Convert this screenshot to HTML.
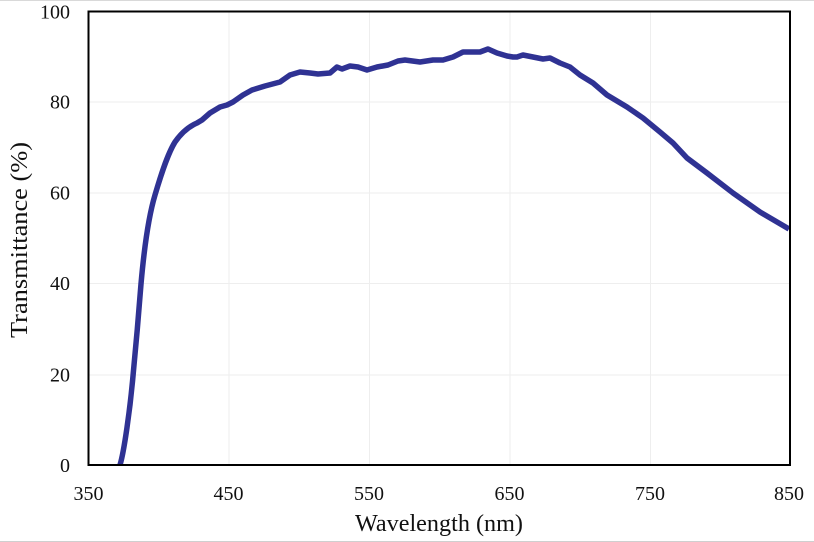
<!DOCTYPE html>
<html>
<head>
<meta charset="utf-8">
<style>
  html,body{margin:0;padding:0;background:#fff;}
  svg{display:block;}
  text{font-family:"Liberation Serif","Times New Roman",serif;fill:#111;}
</style>
</head>
<body>
<svg width="814" height="542" viewBox="0 0 814 542" xmlns="http://www.w3.org/2000/svg">
  <rect x="0" y="0" width="814" height="542" fill="#fff"/>
  <line x1="0" y1="0.5" x2="814" y2="0.5" stroke="#d9d9d9" stroke-width="1"/>
  <line x1="0" y1="541.5" x2="814" y2="541.5" stroke="#cfcfcf" stroke-width="1"/>

  <!-- gridlines -->
  <g stroke="#eeeeee" stroke-width="1">
    <line x1="89" y1="102" x2="790" y2="102"/>
    <line x1="89" y1="193" x2="790" y2="193"/>
    <line x1="89" y1="283.5" x2="790" y2="283.5"/>
    <line x1="89" y1="375" x2="790" y2="375"/>
    <line x1="229" y1="12" x2="229" y2="465"/>
    <line x1="369.5" y1="12" x2="369.5" y2="465"/>
    <line x1="510" y1="12" x2="510" y2="465"/>
    <line x1="650.5" y1="12" x2="650.5" y2="465"/>
  </g>

  <!-- curve -->
  <path fill="none" stroke="#2f3293" stroke-width="5.5" stroke-linejoin="round" stroke-linecap="butt"
    d="M120,465 C124,452 130,410 133,376 C136,345 139,310 141,284 C144,250 149,215 155,195 C160,178 167,155 175,142 C182,132 190,126 197,123 L202,120 L210,113 L220,107 L227,105 L233,102 L243,95 L252,90 L265,86 L280,82 L290,75 L300,72 L310,73 L318,74 L330,73 L337,67 L342,69 L350,66 L358,67 L367,70 L377,67 L388,65 L398,61 L405,60 L420,62 L433,60 L443,60 L453,57 L463,52 L473,52 L480,52 L488,49 L497,53 L507,56 L513,57 L517,57 L523,55 L533,57 L543,59 L550,58 L560,63 L570,67 L580,75 L593,83 L607,95 L627,107 L643,118 L660,132 L673,143 L687,158 L707,173 L733,193 L760,212 L789,229"/>

  <!-- plot frame -->
  <rect x="88.5" y="11.5" width="701.5" height="453.5" fill="none" stroke="#000" stroke-width="2"/>

  <!-- y tick labels -->
  <g font-size="20" text-anchor="end">
    <text x="70" y="18.5">100</text>
    <text x="70" y="108.5">80</text>
    <text x="70" y="199.5">60</text>
    <text x="70" y="290">40</text>
    <text x="70" y="381.5">20</text>
    <text x="70" y="472">0</text>
  </g>

  <!-- x tick labels -->
  <g font-size="20" text-anchor="middle">
    <text x="88.5" y="500">350</text>
    <text x="228.5" y="500">450</text>
    <text x="369" y="500">550</text>
    <text x="509.5" y="500">650</text>
    <text x="650" y="500">750</text>
    <text x="789" y="500">850</text>
  </g>

  <!-- axis titles -->
  <text x="439" y="531" font-size="24" text-anchor="middle" textLength="168" lengthAdjust="spacingAndGlyphs">Wavelength (nm)</text>
  <text transform="translate(27,240) rotate(-90)" x="0" y="0" font-size="24" text-anchor="middle" textLength="196" lengthAdjust="spacingAndGlyphs">Transmittance (%)</text>
</svg>
</body>
</html>
